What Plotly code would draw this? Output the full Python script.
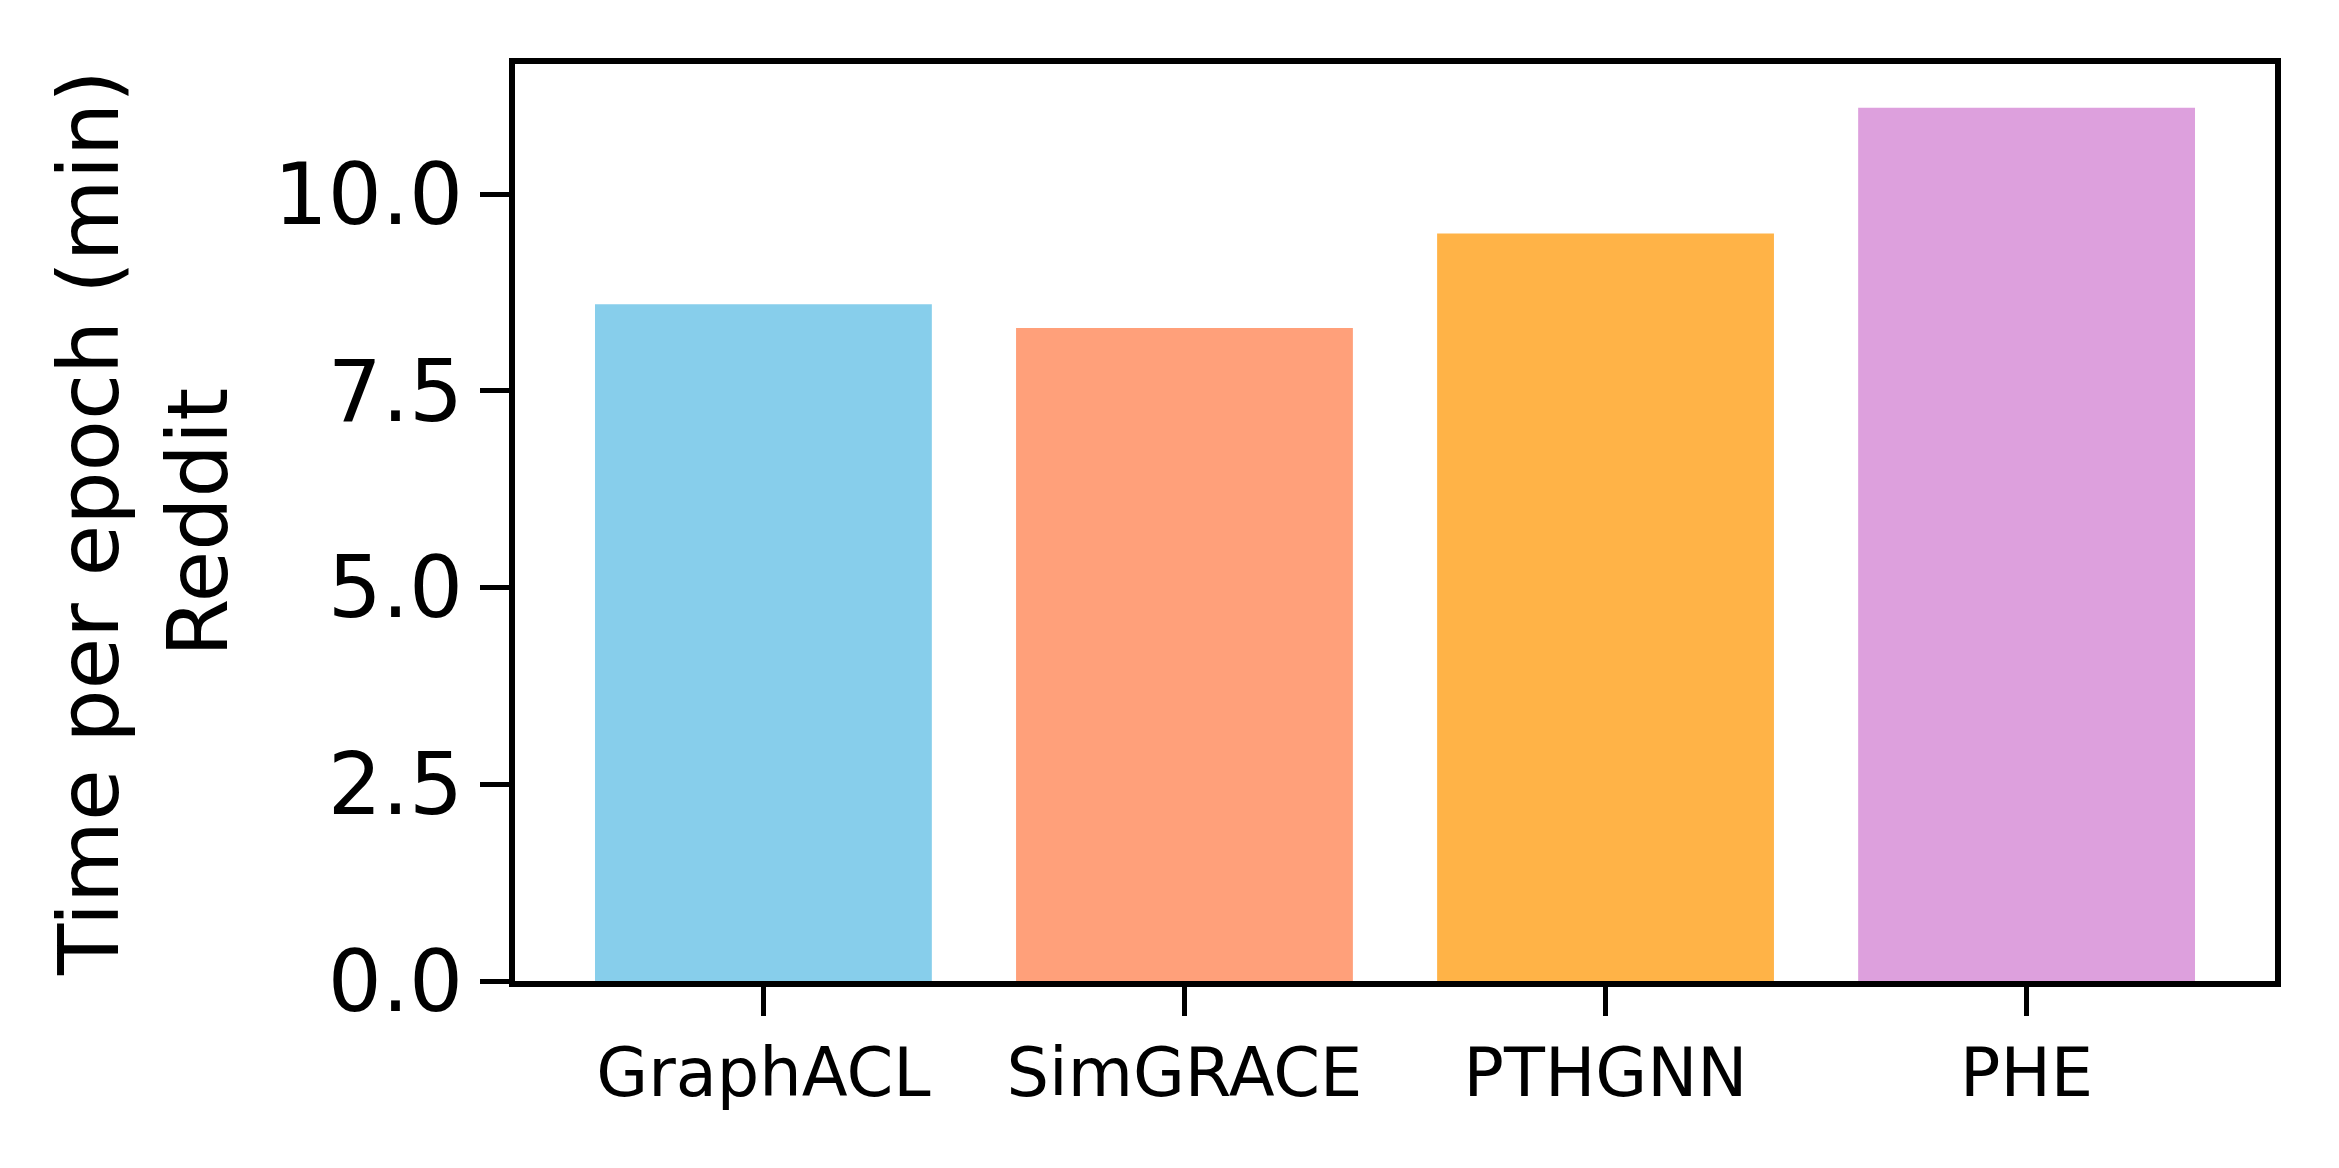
import plotly.graph_objects as go

methods = ["GraphACL", "SimGRACE", "PTHGNN", "PHE"]
times = [8.6, 8.3, 9.5, 11.1]
colors = ["#87CEEB", "#FFA07A", "#FFB347", "#DDA0DD"]
y_ticks = [0.0, 2.5, 5.0, 7.5, 10.0]
y_title = "Time per epoch (min)<br>Reddit"

positions = list(range(len(methods)))

fig = go.Figure(
    go.Bar(
        x=positions,
        y=times,
        width=0.8,
        marker=dict(color=colors, line=dict(width=0)),
        showlegend=False,
    )
)

FONT = "DejaVu Sans"
fig.update_layout(
    width=2339,
    height=1168,
    margin=dict(l=507, r=72, t=56, b=195),
    paper_bgcolor="white",
    plot_bgcolor="white",
    font=dict(family=FONT, color="black"),
)
fig.update_xaxes(
    range=[-0.59, 3.59],
    tickvals=positions,
    ticktext=methods,
    tickfont=dict(family=FONT, size=67, color="black"),
    ticks="outside",
    ticklen=29,
    tickwidth=5,
    tickcolor="black",
    showline=True,
    linecolor="black",
    linewidth=6,
    mirror=True,
    showgrid=False,
    zeroline=False,
)
fig.update_yaxes(
    range=[0, 11.655],
    tickvals=y_ticks,
    tickformat=".1f",
    tickfont=dict(family=FONT, size=85, color="black"),
    ticks="outside",
    ticklen=29,
    tickwidth=5,
    tickcolor="black",
    showline=True,
    linecolor="black",
    linewidth=6,
    mirror=True,
    showgrid=False,
    zeroline=False,
    title=dict(text=y_title, font=dict(family=FONT, size=84, color="black"), standoff=20),
)

fig.write_html("out.html")
